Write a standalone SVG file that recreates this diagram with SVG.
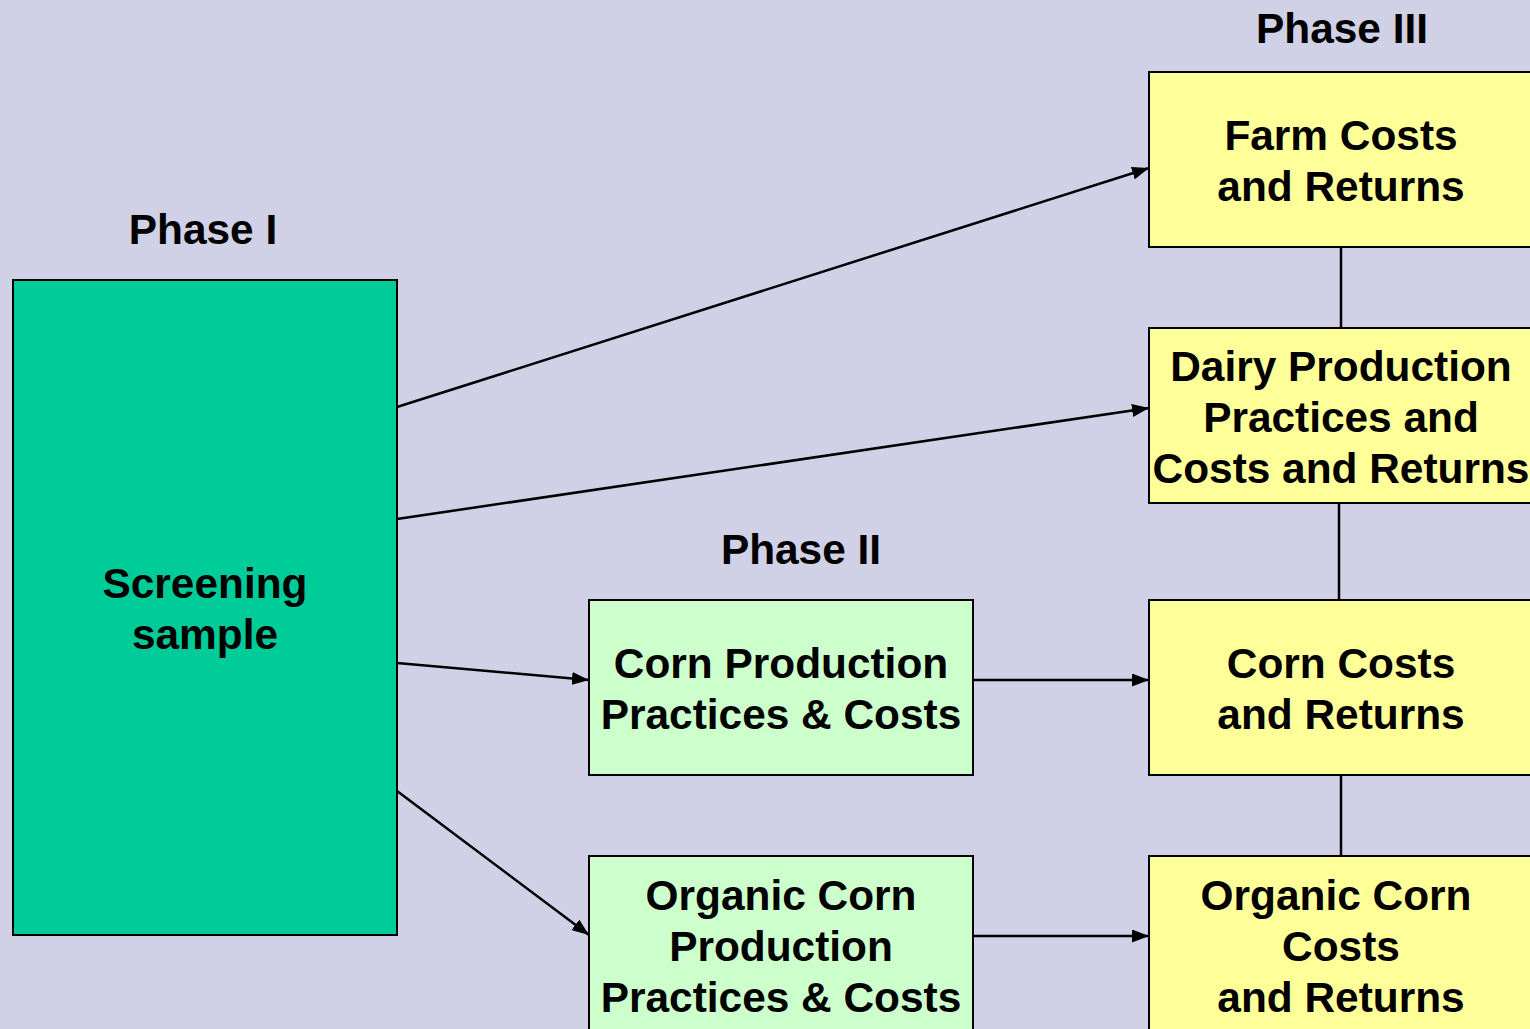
<svg xmlns="http://www.w3.org/2000/svg" width="1530" height="1029" viewBox="0 0 1530 1029">
<defs>
<marker id="ah" markerWidth="17" markerHeight="13" refX="17" refY="6.5" orient="auto" markerUnits="userSpaceOnUse">
<path d="M0,0 L17,6.5 L0,13 Z" fill="#000"/>
</marker>
<style>
.box{stroke:#000;stroke-width:2}
.p1{fill:#00CC99}
.p2{fill:#CCFFCC}
.p3{fill:#FFFF99}
text{font-family:"Liberation Sans",Arial,sans-serif;font-weight:bold;font-size:42.4px;fill:#000;text-anchor:middle}
.ln{stroke:#000;stroke-width:2.5;fill:none}
.ar{stroke:#000;stroke-width:2.5;fill:none;marker-end:url(#ah)}
</style>
</defs>
<rect width="1530" height="1029" fill="#D0D0E6"/>
<g id="labels">
<text x="203" y="244">Phase I</text>
<text x="801" y="564">Phase II</text>
<text x="1342" y="43">Phase III</text>
</g>
<g id="connectors">
<line class="ar" x1="397" y1="407" x2="1149" y2="168"/>
<line class="ar" x1="397" y1="519" x2="1149" y2="408"/>
<line class="ar" x1="397" y1="663" x2="589" y2="680"/>
<line class="ar" x1="397" y1="791" x2="589" y2="935"/>
<line class="ar" x1="973" y1="680" x2="1149" y2="680"/>
<line class="ar" x1="973" y1="936" x2="1149" y2="936"/>
<line class="ln" x1="1341" y1="247" x2="1341" y2="328"/>
<line class="ln" x1="1339" y1="503" x2="1339" y2="600"/>
<line class="ln" x1="1341" y1="775" x2="1341" y2="856"/>
</g>
<g id="screening">
<rect class="box p1" x="13" y="280" width="384" height="655"/>
<text x="205" y="598">Screening</text>
<text x="205" y="649">sample</text>
</g>
<g id="corn-prod">
<rect class="box p2" x="589" y="600" width="384" height="175"/>
<text x="781" y="678">Corn Production</text>
<text x="781" y="729">Practices &amp; Costs</text>
</g>
<g id="organic-prod">
<rect class="box p2" x="589" y="856" width="384" height="190"/>
<text x="781" y="910">Organic Corn</text>
<text x="781" y="961">Production</text>
<text x="781" y="1012">Practices &amp; Costs</text>
</g>
<g id="farm">
<rect class="box p3" x="1149" y="72" width="390" height="175"/>
<text x="1341" y="150">Farm Costs</text>
<text x="1341" y="201">and Returns</text>
</g>
<g id="dairy">
<rect class="box p3" x="1149" y="328" width="390" height="175"/>
<text x="1341" y="381">Dairy Production</text>
<text x="1341" y="432">Practices and</text>
<text x="1341" y="483">Costs and Returns</text>
</g>
<g id="corn-costs">
<rect class="box p3" x="1149" y="600" width="390" height="175"/>
<text x="1341" y="678">Corn Costs</text>
<text x="1341" y="729">and Returns</text>
</g>
<g id="organic-costs">
<rect class="box p3" x="1149" y="856" width="390" height="190"/>
<text x="1336" y="910">Organic Corn</text>
<text x="1341" y="961">Costs</text>
<text x="1341" y="1012">and Returns</text>
</g>
</svg>
